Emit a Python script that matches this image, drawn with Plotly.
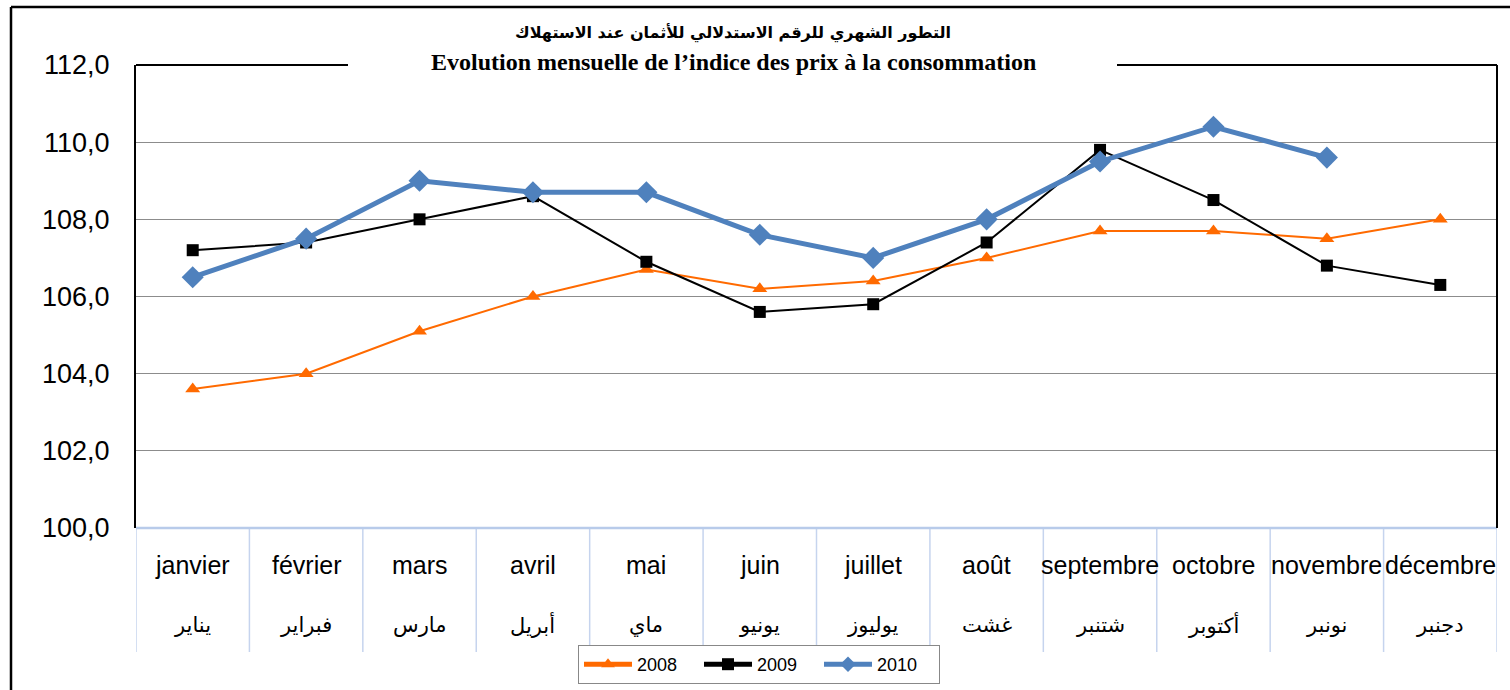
import plotly.graph_objects as go

months_fr = ["janvier", "février", "mars", "avril", "mai", "juin", "juillet",
             "août", "septembre", "octobre", "novembre", "décembre"]
months_ar = ["يناير", "فبراير", "مارس", "أبريل", "ماي", "يونيو", "يوليوز",
             "غشت", "شتنبر", "أكتوبر", "نونبر", "دجنبر"]

ipc_2008 = [103.6, 104.0, 105.1, 106.0, 106.7, 106.2, 106.4, 107.0, 107.7, 107.7, 107.5, 108.0]
ipc_2009 = [107.2, 107.4, 108.0, 108.6, 106.9, 105.6, 105.8, 107.4, 109.8, 108.5, 106.8, 106.3]
ipc_2010 = [106.5, 107.5, 109.0, 108.7, 108.7, 107.6, 107.0, 108.0, 109.5, 110.4, 109.6]

title_ar = "التطور الشهري للرقم الاستدلالي للأثمان عند الاستهلاك"
title_fr = "Evolution mensuelle de l’indice des prix à la consommation"

W, H = 1510, 690
L, R, T, B = 136, 13, 65, 162
PW, PH = W - L - R, H - T - B

def px_x(p):
    return (p - L) / PW

def px_y(p):
    return (H - B - p) / PH

x_idx = list(range(len(months_fr)))

fig = go.Figure()
fig.add_trace(go.Scatter(
    x=x_idx, y=ipc_2008, name="2008", mode="lines+markers",
    line=dict(color="#FF6A00", width=2),
    marker=dict(symbol="triangle-up", size=13, color="#FF6A00")))
fig.add_trace(go.Scatter(
    x=x_idx, y=ipc_2009, name="2009", mode="lines+markers",
    line=dict(color="#000000", width=2),
    marker=dict(symbol="square", size=12, color="#000000")))
fig.add_trace(go.Scatter(
    x=x_idx[:len(ipc_2010)], y=ipc_2010, name="2010", mode="lines+markers",
    line=dict(color="#4F81BD", width=5),
    marker=dict(symbol="diamond", size=17, color="#4F81BD")))

shapes = []
for i in range(len(months_fr) + 1):
    shapes.append(dict(type="line", xref="x", yref="paper",
                       x0=i - 0.5, x1=i - 0.5, y0=0, y1=px_y(652),
                       line=dict(color="#C6D4EE", width=1.5), layer="below"))
shapes.append(dict(type="line", xref="paper", yref="paper", x0=0, x1=1, y0=0, y1=0,
                   line=dict(color="#B8CBEA", width=2.5)))
shapes.append(dict(type="rect", xref="paper", yref="paper",
                   x0=px_x(348), x1=px_x(1117), y0=1 - 3 / PH, y1=1 + 3 / PH,
                   fillcolor="white", line=dict(width=0), layer="above"))
shapes.append(dict(type="line", xref="paper", yref="paper", x0=0, x1=px_x(348), y0=1, y1=1,
                   line=dict(color="black", width=2)))
shapes.append(dict(type="line", xref="paper", yref="paper", x0=px_x(1117), x1=1, y0=1, y1=1,
                   line=dict(color="black", width=2)))
shapes.append(dict(type="line", xref="paper", yref="paper", x0=1, x1=1, y0=0, y1=1,
                   line=dict(color="black", width=2)))
shapes.append(dict(type="line", xref="paper", yref="paper", x0=px_x(11), x1=px_x(11),
                   y0=px_y(7), y1=px_y(695), line=dict(color="black", width=2.5)))
shapes.append(dict(type="line", xref="paper", yref="paper", x0=px_x(11), x1=px_x(1515),
                   y0=px_y(7), y1=px_y(7), line=dict(color="black", width=2.5)))

annotations = []
for i, (fr, ar) in enumerate(zip(months_fr, months_ar)):
    annotations.append(dict(x=i, y=px_y(565), xref="x", yref="paper", text=fr,
                            showarrow=False, xanchor="center", yanchor="middle",
                            font=dict(family="Liberation Sans, Arial", size=25, color="black")))
    annotations.append(dict(x=i, y=px_y(625), xref="x", yref="paper", text=ar,
                            showarrow=False, xanchor="center", yanchor="middle",
                            font=dict(family="DejaVu Sans", size=21, color="black")))
annotations.append(dict(x=px_x(733), y=px_y(33), xref="paper", yref="paper",
                        text="<b>" + title_ar + "</b>", showarrow=False,
                        xanchor="center", yanchor="middle",
                        font=dict(family="DejaVu Sans", size=16, color="black")))
annotations.append(dict(x=px_x(733), y=px_y(62), xref="paper", yref="paper",
                        text="<b>" + title_fr + "</b>", showarrow=False,
                        xanchor="center", yanchor="middle",
                        font=dict(family="Liberation Serif, Times New Roman", size=24, color="black")))

fig.update_layout(
    width=W, height=H,
    margin=dict(l=L, r=R, t=T, b=B, pad=0, autoexpand=False),
    paper_bgcolor="white", plot_bgcolor="white",
    separators=", ",
    showlegend=True,
    legend=dict(orientation="h", x=px_x(578), y=px_y(645), xanchor="left", yanchor="top",
                bordercolor="#888888", borderwidth=1, bgcolor="white",
                font=dict(family="Liberation Sans, Arial", size=18, color="black"),
                entrywidth=57, entrywidthmode="pixels", itemwidth=48,
                itemsizing="constant"),
    xaxis=dict(range=[-0.5, 11.5], showticklabels=False, showgrid=False,
               zeroline=False, showline=False, fixedrange=True),
    yaxis=dict(range=[100, 112], dtick=2, tick0=100, tickformat=".1f",
               showgrid=True, gridcolor="#8C8C8C", gridwidth=1, zeroline=False,
               showline=True, linecolor="black", linewidth=2,
               ticks="outside", ticklen=19, tickcolor="white",
               tickfont=dict(family="Liberation Sans, Arial", size=27, color="black")),
    shapes=shapes,
    annotations=annotations,
)

fig.write_html("out.html", config={"displayModeBar": False},
               post_script="document.body.style.margin='0';document.body.style.overflow='hidden';")
